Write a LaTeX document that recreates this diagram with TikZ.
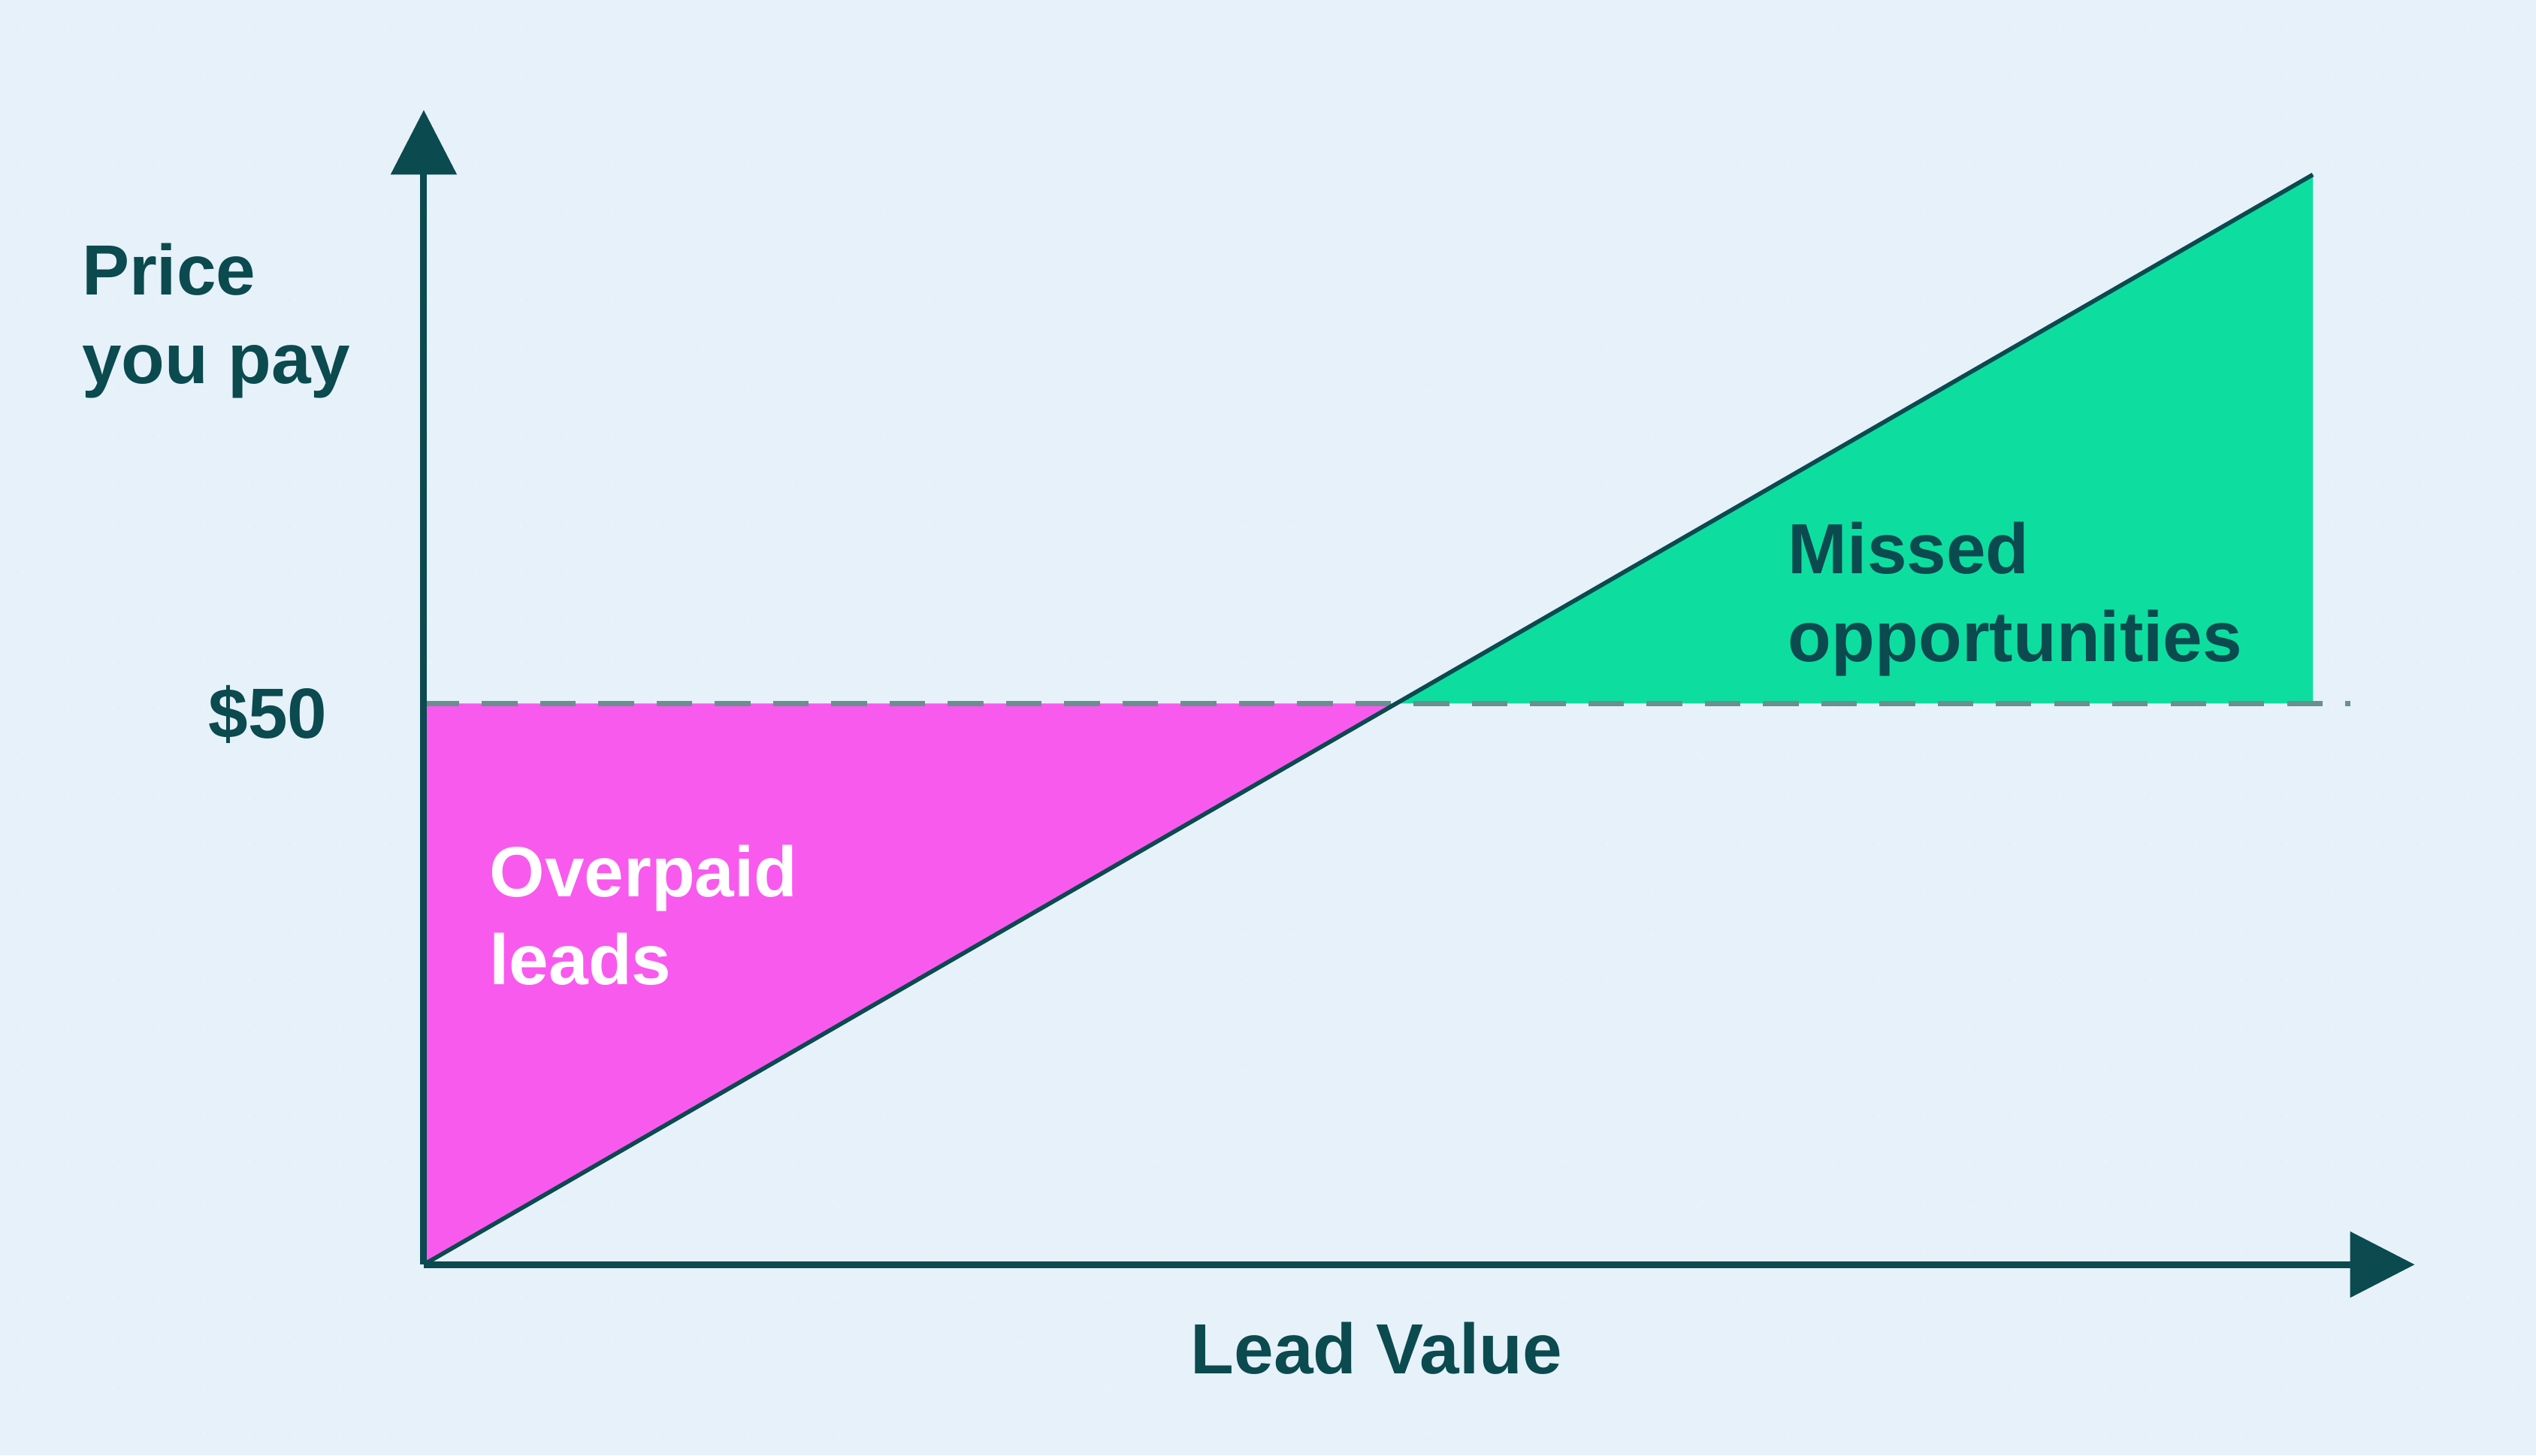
\documentclass[tikz,border=0pt]{standalone}
\usepackage{fontspec}
\setmainfont{Liberation Sans}
\usetikzlibrary{arrows.meta}
\definecolor{bgblue}{HTML}{E6F1FA}
\definecolor{darkteal}{HTML}{0B4A4F}
\definecolor{pinkfill}{HTML}{F95AEE}
\definecolor{greenfill}{HTML}{0EDDA0}
\definecolor{dashgrey}{HTML}{6A8F8E}
\tikzset{axis/.style={darkteal,line width=1.2pt,-{Triangle[length=0.4cm,width=0.4cm]}},
  label/.style={darkteal,font=\fontsize{12.5}{15.5}\selectfont\bfseries,inner sep=0pt,align=left}}

\begin{document}
\begin{tikzpicture}
  \fill[bgblue] (0,0) rectangle (15.68,9);
  \useasboundingbox (0,0) rectangle (15.68,9);
  \foreach \x in {0.14,0.42,...,15.68}
   \foreach \y in {0.14,0.42,...,9}
    \fill[darkteal!6] (\x,\y) circle(0.008);
  \coordinate (O) at (2.62,1.18);
  \coordinate (ytip) at (2.62,8.32);
  \coordinate (xtip) at (14.93,1.18);
  \coordinate (cross) at (8.63,4.65);
  \coordinate (top) at (14.30,7.92);
  \coordinate (left) at (2.62,4.65);
  \coordinate (right) at (14.30,4.65);
  \coordinate (dashend) at (14.53,4.65);
  \fill[pinkfill] (O) -- (left) -- (cross) -- cycle;
  \fill[greenfill] (cross) -- (top) -- (right) -- cycle;
  \draw[dashgrey,line width=0.9pt,dash pattern=on 0.22cm off 0.14cm] (left) -- (dashend);
  \draw[darkteal,line width=0.75pt] (O) -- (top);
  \draw[axis] (O) -- (ytip);
  \draw[axis] (O) -- (xtip);
  \node[label,anchor=north west] (price) at (0.5,7.5) {Price\\you pay};
  \node[label,anchor=east] (fifty) at (2.03,4.58) {\$50};
  \node[label,white,anchor=north west] (over) at (3.02,3.78) {Overpaid\\leads};
  \node[label,anchor=north west] (missed) at (11.05,5.78) {Missed\\opportunities};
  \node[label] (lead) at (8.51,0.66) {Lead Value};
\end{tikzpicture}
\end{document}
